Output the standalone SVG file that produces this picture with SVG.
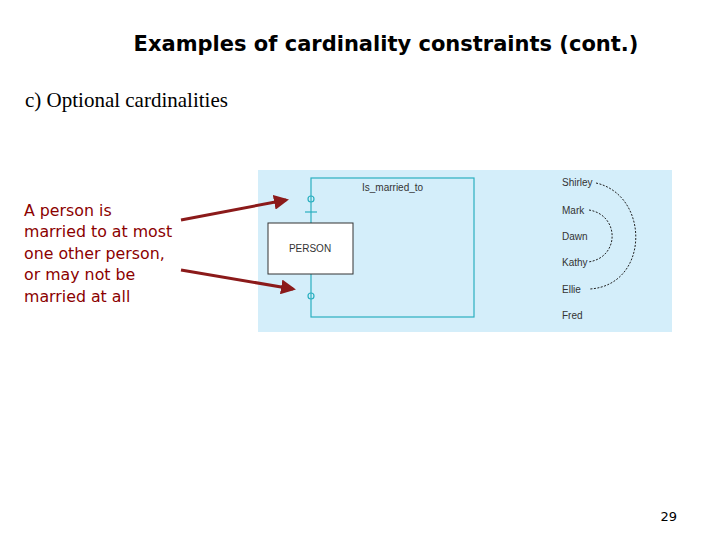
<svg xmlns="http://www.w3.org/2000/svg" width="720" height="540" viewBox="0 0 720 540">
<style>
.t{font-family:"DejaVu Sans",sans-serif;fill:#8b0000;font-size:15.8px}
.s{font-family:"Liberation Sans",Arial,sans-serif;font-size:10px;fill:#333}
.c{stroke:#2ab0c0;stroke-width:1.2;fill:none}
.d{stroke:#222;stroke-width:1;fill:none;stroke-dasharray:2,1.5}
.a{stroke:#8b1a1a;stroke-width:3;fill:none;marker-end:url(#ah)}
</style>
<defs><marker id="ah" markerWidth="5" markerHeight="5" refX="4" refY="2.5" orient="auto"><path d="M0,0L5,2.5L0,5z" fill="#8b1a1a"/></marker></defs>
<rect width="720" height="540" fill="#fff"/>
<text x="386" y="51" text-anchor="middle" font-family="DejaVu Sans,sans-serif" font-weight="bold" font-size="21">Examples of cardinality constraints (cont.)</text>
<text x="25" y="107" font-family="Liberation Serif,serif" font-size="21">c) Optional cardinalities</text>
<text class="t"><tspan x="24" y="216">A person is</tspan><tspan x="24" y="237">married to at most</tspan><tspan x="24" y="259">one other person,</tspan><tspan x="24" y="280">or may not be</tspan><tspan x="24" y="302">married at all</tspan></text>
<rect x="258" y="170" width="414" height="162" fill="#d4eefa"/>
<g id="rel">
<rect class="c" x="311" y="178" width="163" height="139"/>
<text class="s" x="362" y="191">Is_married_to</text>
<circle class="c" cx="311" cy="199" r="3"/>
<line class="c" x1="305" y1="212" x2="317" y2="212"/>
<circle class="c" cx="311" cy="296" r="3"/>
</g>
<g id="person">
<rect x="268" y="223" width="85" height="51" fill="#fff" stroke="#333" stroke-width="1"/>
<text class="s" x="310" y="252" text-anchor="middle" font-size="11">PERSON</text>
</g>
<g id="names" class="s">
<text x="562" y="186">Shirley</text><text x="562" y="214">Mark</text><text x="562" y="240">Dawn</text>
<text x="562" y="266">Kathy</text><text x="562" y="293">Ellie</text><text x="562" y="319">Fred</text>
</g>
<g id="connectors">
<path class="d" d="M596,183 C650,195 650,285 590,289"/>
<path class="d" d="M589,210 C620,215 620,258 588,262"/>
<line class="a" x1="181" y1="220" x2="286" y2="200"/>
<line class="a" x1="181" y1="270" x2="293" y2="289"/>
</g>
<text x="677" y="521" text-anchor="end" font-family="DejaVu Sans,sans-serif" font-size="13">29</text>
</svg>
